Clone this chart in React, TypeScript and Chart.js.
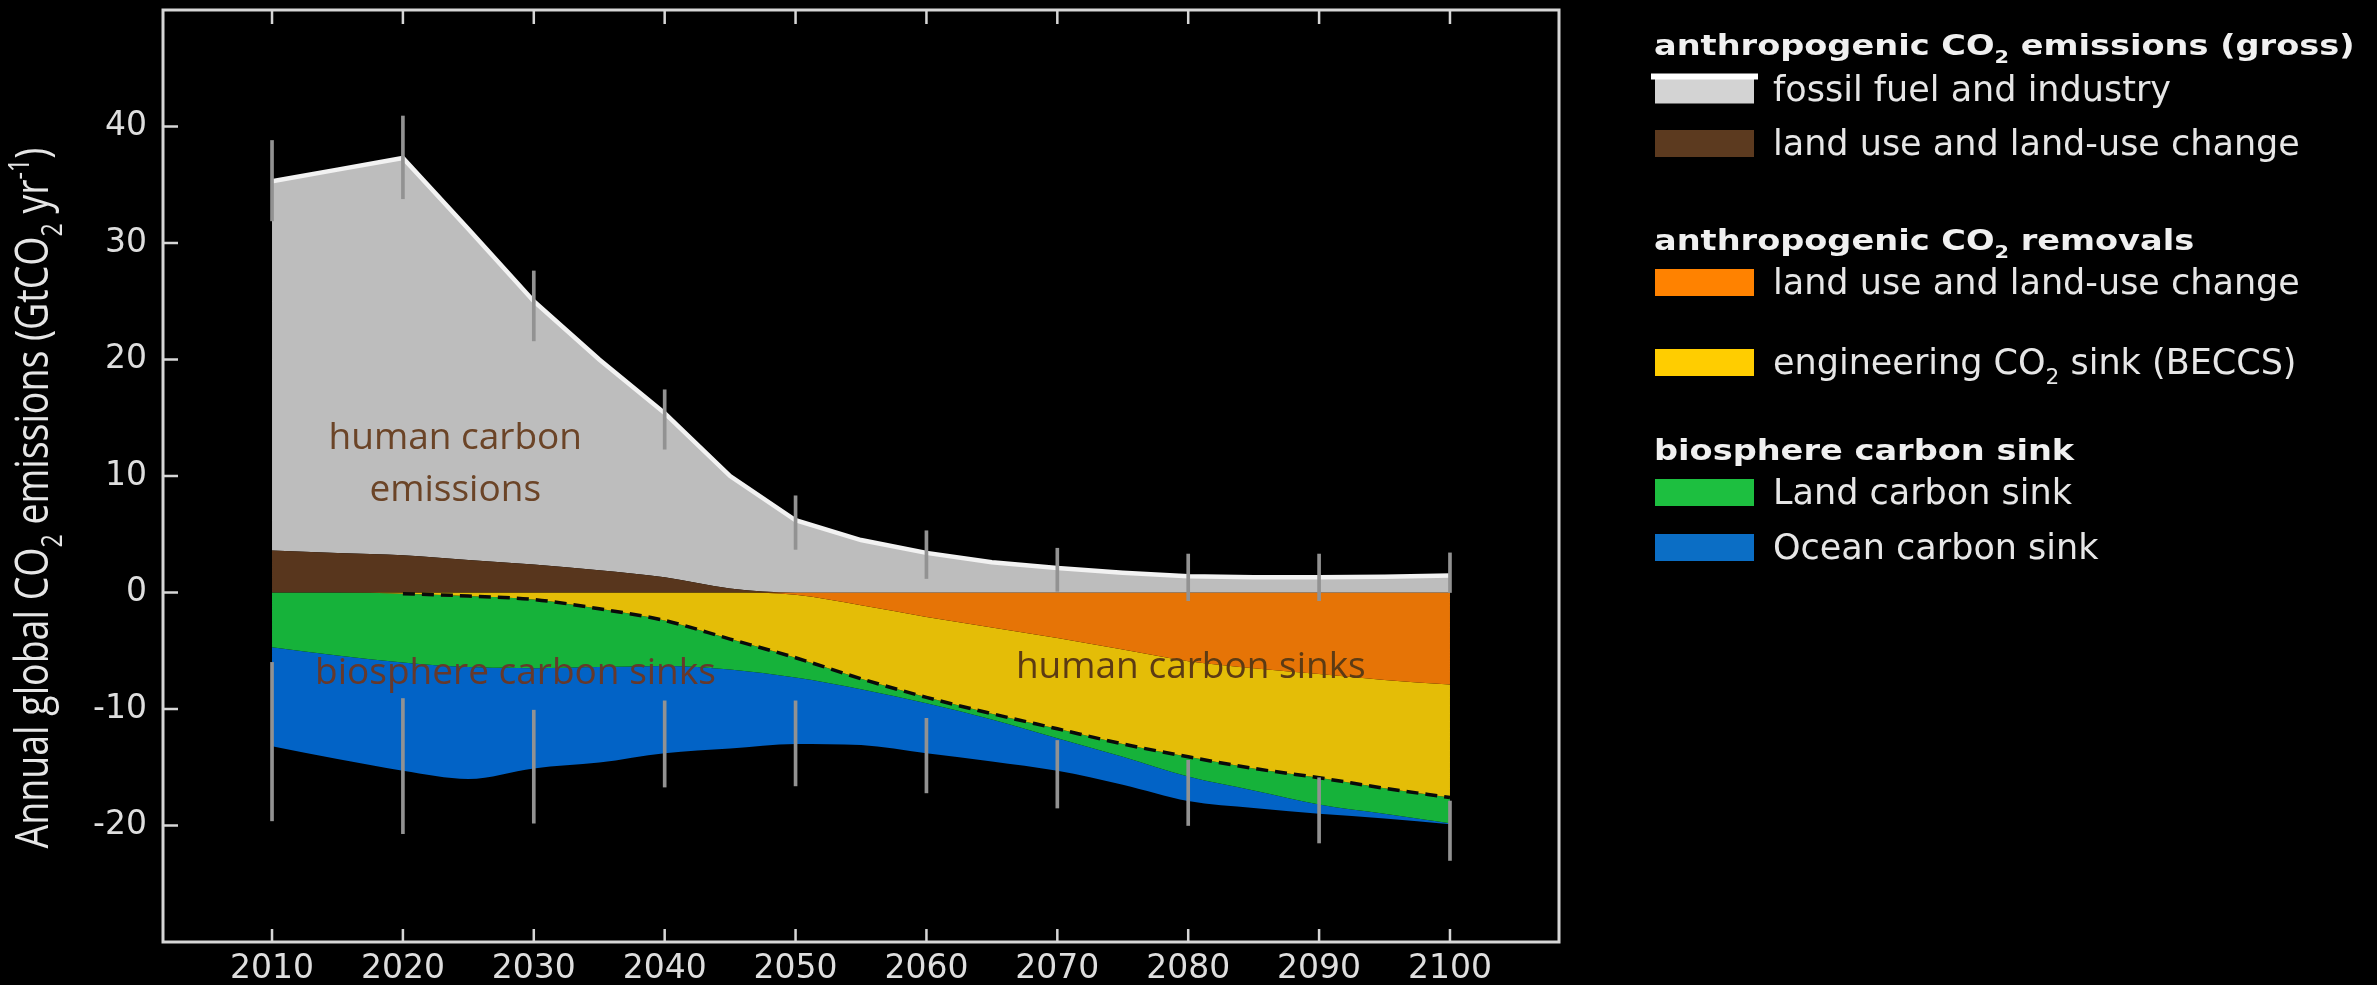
import React, { useEffect, useRef } from "react";
import { Chart, registerables } from "chart.js";

Chart.register(...registerables);

// ---------- data (GtCO2 / yr) ----------
const years = [2010, 2015, 2020, 2025, 2030, 2035, 2040, 2045, 2050, 2055, 2060, 2065, 2070, 2075, 2080, 2085, 2090, 2095, 2100];
const landUseEmissions = [3.6, 3.4, 3.2, 2.8, 2.4, 1.9, 1.3, 0.35, 0, 0, 0, 0, 0, 0, 0, 0, 0, 0, 0];
const fossilIndustry = [31.7, 32.9, 34.1, 28.4, 22.6, 18.1, 14.1, 9.65, 6.2, 4.5, 3.4, 2.6, 2.1, 1.7, 1.4, 1.3, 1.3, 1.35, 1.45];
const landUseRemovals = [0, 0, 0, 0, 0, 0, 0, 0, -0.2, -1.1, -2.1, -3.0, -3.9, -4.9, -5.9, -6.5, -7.0, -7.5, -7.9];
const beccsSink = [0, 0, -0.1, -0.3, -0.6, -1.4, -2.4, -4.0, -5.4, -6.3, -6.9, -7.4, -7.8, -8.1, -8.2, -8.6, -8.9, -9.3, -9.7];
const landCarbonSink = [-4.7, -5.4, -5.9, -6.1, -5.9, -5.0, -3.9, -2.6, -1.7, -0.9, -0.5, -0.5, -0.8, -1.1, -1.7, -1.9, -2.3, -2.2, -2.2];
const oceanCarbonSink = [-8.5, -8.9, -9.3, -9.6, -8.6, -8.2, -7.5, -6.8, -5.7, -4.8, -4.3, -3.6, -2.8, -2.4, -2.1, -1.5, -0.8, -0.4, -0.1];
const removalsLineFrom = 2020;

// uncertainty ranges
const rangeYears = [2010, 2020, 2030, 2040, 2050, 2060, 2070, 2080, 2090, 2100];
const emissionRangeLow = [31.9, 33.8, 21.6, 12.3, 3.7, 1.2, 0.1, -0.7, -0.7, 0];
const emissionRangeHigh = [38.8, 40.9, 27.6, 17.4, 8.3, 5.3, 3.8, 3.3, 3.3, 3.4];
const sinkRangeHigh = [-6.0, -9.1, -10.1, -9.3, -9.3, -10.8, -12.7, -14.4, -15.9, -17.9];
const sinkRangeLow = [-19.6, -20.7, -19.8, -16.7, -16.6, -17.2, -18.5, -20.0, -21.5, -23.0];

// axes
const xTicks = [2010, 2020, 2030, 2040, 2050, 2060, 2070, 2080, 2090, 2100];
const yTicks = [-20, -10, 0, 10, 20, 30, 40];
const xMin = 2001.67;
const xMax = 2108.33;
const yMin = -30;
const yMax = 50;
const yTitle = "Annual global CO_{2} emissions (GtCO_{2} yr^{-1})";

// legend
const legendGroups = [
  {
    title: "anthropogenic CO_{2} emissions (gross)",
    items: [
      { label: "fossil fuel and industry", color: "#d3d3d3", edge: "#ffffff" },
      { label: "land use and land-use change", color: "#5c3a1f" },
    ],
  },
  {
    title: "anthropogenic CO_{2} removals",
    items: [
      { label: "land use and land-use change", color: "#ff8200" },
      { label: "engineering CO_{2} sink (BECCS)", color: "#ffcd00" },
    ],
  },
  {
    title: "biosphere carbon sink",
    items: [
      { label: "Land carbon sink", color: "#1dbf40" },
      { label: "Ocean carbon sink", color: "#0b6ec5" },
    ],
  },
];

// in-plot labels (anchored in data units)
const annotations = [
  { lines: ["human carbon", "emissions"], x: 2024.0, y: 12.3, color: "#6b4427" },
  { lines: ["biosphere carbon sinks"], x: 2028.6, y: -7.85, color: "#66392b" },
  { lines: ["human carbon sinks"], x: 2080.2, y: -7.3, color: "#5c3b14" },
];

// ---------- helpers ----------
type Seg = { text: string; kind: "n" | "sub" | "sup" };
function parseRich(s: string): Seg[] {
  const out: Seg[] = [];
  const re = /(_|\^)\{([^}]*)\}/g;
  let last = 0;
  let m: RegExpExecArray | null;
  while ((m = re.exec(s))) {
    if (m.index > last) out.push({ text: s.slice(last, m.index), kind: "n" });
    out.push({ text: m[2], kind: m[1] === "_" ? "sub" : "sup" });
    last = m.index + m[0].length;
  }
  if (last < s.length) out.push({ text: s.slice(last), kind: "n" });
  return out;
}

function drawRich(
  ctx: CanvasRenderingContext2D,
  text: string,
  x: number,
  y: number,
  size: number,
  family: string,
  weight: string,
  color: string,
  align: "left" | "center",
  sx = 1
) {
  const segs = parseRich(text).map((s) => {
    const sz = s.kind === "n" ? size : size * 0.62;
    ctx.font = `${weight} ${sz}px ${family}`;
    return { ...s, sz, w: ctx.measureText(s.text).width };
  });
  const total = segs.reduce((a, s) => a + s.w, 0);
  ctx.save();
  ctx.translate(x, y);
  ctx.scale(sx, 1);
  ctx.fillStyle = color;
  ctx.textBaseline = "alphabetic";
  ctx.textAlign = "left";
  let cx = align === "center" ? -total / 2 : 0;
  for (const s of segs) {
    ctx.font = `${weight} ${s.sz}px ${family}`;
    const dy = s.kind === "sub" ? size * 0.3 : s.kind === "sup" ? -size * 0.42 : 0;
    ctx.fillText(s.text, cx, dy);
    cx += s.w;
  }
  ctx.restore();
}

const bgPlugin = {
  id: "bg",
  beforeDraw(chart: any) {
    const { ctx, width, height } = chart;
    ctx.save();
    ctx.fillStyle = "#000";
    ctx.fillRect(0, 0, width, height);
    ctx.restore();
  },
};

const framePlugin = {
  id: "frame",
  afterDraw(chart: any) {
    const { ctx, chartArea: a, scales } = chart;
    ctx.save();
    ctx.strokeStyle = "#d6d6d6";
    ctx.lineWidth = 3;
    ctx.strokeRect(a.left, a.top, a.right - a.left, a.bottom - a.top);
    ctx.lineWidth = 2.5;
    ctx.beginPath();
    for (const t of xTicks) {
      const px = scales.x.getPixelForValue(t);
      ctx.moveTo(px, a.bottom);
      ctx.lineTo(px, a.bottom - 13);
      ctx.moveTo(px, a.top);
      ctx.lineTo(px, a.top + 14);
    }
    for (const t of yTicks) {
      const py = scales.y.getPixelForValue(t);
      ctx.moveTo(a.left, py);
      ctx.lineTo(a.left + 15, py);
    }
    ctx.stroke();
    ctx.restore();
  },
};

const textPlugin = {
  id: "texts",
  afterDraw(chart: any) {
    const { ctx, scales, chartArea } = chart;
    // y-axis title
    ctx.save();
    ctx.translate(48, (chartArea.top + chartArea.bottom) / 2 + 22);
    ctx.rotate(-Math.PI / 2);
    drawRich(ctx, yTitle, 0, 0, 46, '"Open Sans"', "normal", "#e6e6e6", "center", 0.815);
    ctx.restore();

    // annotations in plot
    for (const an of annotations) {
      const px = scales.x.getPixelForValue(an.x);
      const py = scales.y.getPixelForValue(an.y);
      an.lines.forEach((ln, i) => {
        drawRich(ctx, ln, px, py + i * 52, 37, '"Open Sans"', "normal", an.color, "center");
      });
    }

    // legend
    const headingBase = [55, 250, 460];
    const itemCenters = [
      [90, 143.5],
      [282.5, 362.5],
      [492.5, 547.5],
    ];
    const swX = 1655;
    const swW = 99;
    const swH = 27;
    const txX = 1773;
    legendGroups.forEach((g, gi) => {
      drawRich(ctx, g.title, 1654, headingBase[gi], 28, '"DejaVu Sans"', "bold", "#f0f0f0", "left", 1.2);
      g.items.forEach((it: any, ii) => {
        const cy = itemCenters[gi][ii];
        ctx.save();
        ctx.fillStyle = it.color;
        ctx.fillRect(swX, cy - swH / 2, swW, swH);
        if (it.edge) {
          ctx.fillStyle = it.edge;
          ctx.fillRect(swX - 4, cy - swH / 2 - 3, swW + 8, 6);
        }
        ctx.restore();
        drawRich(ctx, it.label, txX, cy + 11, 35, '"DejaVu Sans"', "normal", "#e6e6e6", "left");
      });
    });
  },
};

function pts(vals: (number | null)[], xs: number[] = years) {
  return xs.map((x, i) => ({ x, y: vals[i] }));
}

export default function App() {
  const ref = useRef<HTMLCanvasElement>(null);

  useEffect(() => {
    if (!ref.current) return;
    const removalsLine = years.map((yr, i) =>
      yr >= removalsLineFrom ? +(landUseRemovals[i] + beccsSink[i]).toFixed(2) : null
    );
    const area = (label: string, vals: number[], color: string, stack: string, fill: any, extra: any = {}) => ({
      type: "line" as const,
      label,
      data: pts(vals),
      stack,
      fill,
      backgroundColor: color,
      borderColor: color,
      borderWidth: 0,
      pointRadius: 0,
      cubicInterpolationMode: "monotone" as const,
      order: 10,
      ...extra,
    });
    const rangeBar = (label: string, lo: number[], hi: number[], stack: string) => ({
      type: "bar" as const,
      label,
      data: rangeYears.map((x, i) => ({ x, y: [lo[i], hi[i]] })),
      stack,
      grouped: false,
      barThickness: 3,
      backgroundColor: "#929292",
      borderWidth: 0,
      order: 0,
    });

    const chart = new Chart(ref.current, {
      type: "line",
      data: {
        datasets: [
          area("land use and land-use change (emissions)", landUseEmissions, "#58361d", "pos", "origin"),
          area("fossil fuel and industry", fossilIndustry, "#bdbdbd", "pos", "-1", {
            borderColor: "#f2f2f2",
            borderWidth: 4.5,
            cubicInterpolationMode: "default",
            tension: 0,
          }),
          area("land use and land-use change (removals)", landUseRemovals, "#e67406", "neg", "origin"),
          area("engineering CO2 sink (BECCS)", beccsSink, "#e4bd07", "neg", "-1"),
          area("Land carbon sink", landCarbonSink, "#16b23a", "neg", "-1"),
          area("Ocean carbon sink", oceanCarbonSink, "#0263c6", "neg", "-1"),
          {
            type: "line" as const,
            label: "total removals",
            data: pts(removalsLine),
            stack: "dash",
            fill: false,
            borderColor: "#0a0a0a",
            borderWidth: 3.5,
            borderDash: [12, 7],
            pointRadius: 0,
            cubicInterpolationMode: "monotone" as const,
            order: 1,
          },
          rangeBar("emission range", emissionRangeLow, emissionRangeHigh, "errU"),
          rangeBar("sink range", sinkRangeLow, sinkRangeHigh, "errL"),
        ] as any,
      },
      options: {
        responsive: false,
        animation: false,
        devicePixelRatio: 1,
        layout: { padding: { left: 0, top: 10, right: 818, bottom: 0 } },
        plugins: {
          legend: { display: false },
          tooltip: { enabled: false },
          title: { display: false },
        },
        elements: { point: { radius: 0 } },
        scales: {
          x: {
            type: "linear",
            min: xMin,
            max: xMax,
            offset: false,
            grid: { display: false, drawTicks: false, offset: false },
            border: { display: false },
            afterBuildTicks: (s: any) => {
              s.ticks = xTicks.map((v) => ({ value: v }));
            },
            afterFit: (s: any) => {
              s.height = 43;
              s.paddingLeft = 0;
              s.paddingRight = 0;
            },
            ticks: {
              color: "#dedede",
              padding: 8,
              maxRotation: 0,
              autoSkip: false,
              font: { family: '"DejaVu Sans"', size: 33 },
              callback: (v: any) => String(v),
            },
          },
          y: {
            type: "linear",
            stacked: true,
            min: yMin,
            max: yMax,
            grid: { display: false, drawTicks: false },
            border: { display: false },
            afterBuildTicks: (s: any) => {
              s.ticks = yTicks.map((v) => ({ value: v }));
            },
            afterFit: (s: any) => {
              s.width = 163;
              s.paddingTop = 0;
              s.paddingBottom = 0;
            },
            ticks: {
              color: "#dedede",
              padding: 16,
              autoSkip: false,
              font: { family: '"DejaVu Sans"', size: 33 },
              callback: (v: any) => String(v),
            },
          },
        },
      } as any,
      plugins: [bgPlugin, framePlugin, textPlugin],
    });
    return () => chart.destroy();
  }, []);

  return (
    <div style={{ position: "fixed", left: 0, top: 0, width: 2377, height: 985, background: "#000" }}>
      <canvas ref={ref} width={2377} height={985} style={{ display: "block", width: 2377, height: 985 }} />
    </div>
  );
}
